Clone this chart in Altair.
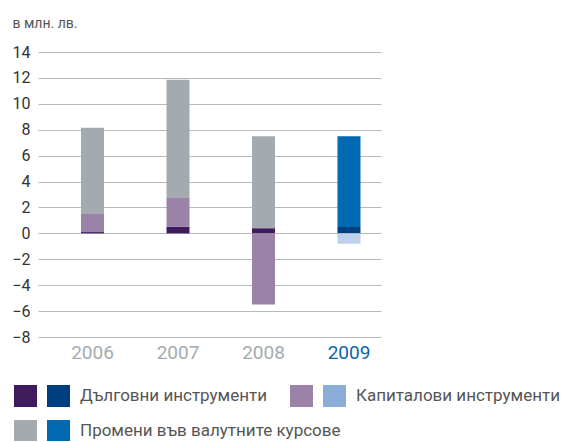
import altair as alt
import pandas as pd

years = ["2006", "2007", "2008", "2009"]
debt = [0.1, 0.5, 0.4, 0.5]
equity = [1.4, 2.23, -5.5, -0.8]
fx = [6.65, 9.13, 7.1, 7.0]

components = ["debt", "equity", "fx"]
labels = ["Дълговни инструменти", "Капиталови инструменти", "Промени във валутните курсове"]
colors_old = ["#3f1b5e", "#9a82a9", "#a3abb1"]
colors_new = ["#003f7f", "#bfd0ea", "#0069b1"]
legend_new = ["#003f7f", "#8badd8", "#0069b1"]
y_ticks = list(range(-8, 15, 2))

rows = []
for i, yr in enumerate(years):
    for j, (comp, vals) in enumerate(zip(components, [debt, equity, fx])):
        period = "new" if yr == "2009" else "old"
        rows.append({"year": yr, "comp": comp, "order": j, "value": vals[i],
                     "key": f"{comp}_{period}"})
df = pd.DataFrame(rows)

dom = [f"{c}_old" for c in components] + [f"{c}_new" for c in components]
rng = colors_old + colors_new

FONT = "Roboto"
W, H = 343, 285

bars = alt.Chart(df).mark_bar(size=23).encode(
    x=alt.X("year:N", sort=years,
            scale=alt.Scale(paddingInner=0.5, paddingOuter=0.256, align=0.757, round=False),
            axis=alt.Axis(title=None, domain=False, ticks=False, labelAngle=0,
                          labelFontSize=19, labelFont=FONT, labelPadding=6,
                          labelColor={"condition": {"test": "datum.value == '2009'", "value": "#0a65aa"},
                                      "value": "#a3abb1"})),
    y=alt.Y("value:Q", stack="zero",
            scale=alt.Scale(domain=[-8, 14], nice=False, zero=False),
            axis=alt.Axis(values=y_ticks, grid=True, domain=False, ticks=False,
                          labelFontSize=16, labelFont=FONT, labelColor="#333333",
                          labelPadding=8, gridColor="#b3babe", gridWidth=1,
                          title="в млн. лв.", titleAngle=0, titleAlign="left",
                          titleBaseline="alphabetic", titleX=-26, titleY=-25,
                          titleFont=FONT, titleFontSize=14, titleFontWeight="normal",
                          titleColor="#555555")),
    color=alt.Color("key:N", scale=alt.Scale(domain=dom, range=rng), legend=None),
    order=alt.Order("order:Q"),
)

layers = [bars]

# legend (layout in pixels relative to plot area)
leg_pos = [(-24, 333), (252, 333), (-24, 368)]
for k in range(3):
    lx, ly = leg_pos[k]
    one = pd.DataFrame({"label": [labels[k]]})
    for s, col in enumerate([colors_old[k], legend_new[k]]):
        layers.append(alt.Chart(one).mark_rect(color=col).encode(
            x=alt.value(lx + s * 33), x2=alt.value(lx + s * 33 + 23),
            y=alt.value(ly), y2=alt.value(ly + 22)))
    layers.append(alt.Chart(one).mark_text(align="left", baseline="middle", font=FONT,
                                           fontSize=17, color="#555555").encode(
        x=alt.value(lx + 66), y=alt.value(ly + 11), text="label:N"))

chart = alt.layer(*layers).properties(
    width=W, height=H,
    autosize=alt.AutoSizeParams(type="none"),
    padding={"left": 30, "top": 44, "right": 186, "bottom": 104},
).configure_view(stroke=None)

chart.save("out.html", embed_options={"renderer": "svg", "actions": False})
